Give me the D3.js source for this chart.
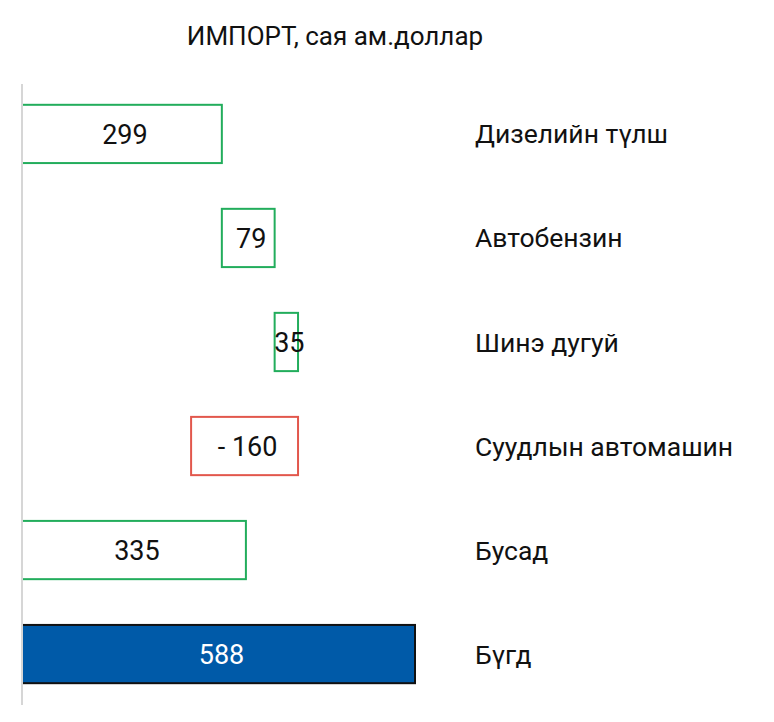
<!DOCTYPE html>
<html>
<head>
<meta charset="utf-8">
<script src="https://cdn.jsdelivr.net/npm/d3@7"></script>
<style>
  body { margin: 0; background: #fff; }
  svg { font-family: Roboto, sans-serif; }
</style>
</head>
<body>
<div class="chart"></div>
<script>
// data
const categories = ['Дизелийн түлш', 'Автобензин', 'Шинэ дугуй', 'Суудлын автомашин', 'Бусад', 'Бүгд'];
const values = [299, 79, 35, -160, 335, 588];
const valueLabels = ['299', '79', '35', '- 160', '335', '588'];
// bars that start again from zero (as drawn in the original)
const fromZero = ['Бусад', 'Бүгд'];
const totals = ['Бүгд'];

const W = 774, H = 722;

let svg = d3.select('.chart').append('svg')
  .attr('width', W)
  .attr('height', H);

// waterfall start/end
let run = 0;
let rows = categories.map(function (c, i) {
  let d = { name: c, value: values[i], label: valueLabels[i], total: totals.includes(c) };
  if (fromZero.includes(c)) run = 0;
  d.x0 = run; d.x1 = run + d.value;
  run = d.x1;
  return d;
});

let x = d3.scaleLinear().domain([0, 588]).range([22, 415]);
let y = d3.scaleBand().domain(categories).range([84, 704])
  .paddingInner(0.44).paddingOuter(0.2);

// title
svg.append('text')
  .attr('x', 335).attr('y', 45)
  .attr('text-anchor', 'middle')
  .attr('font-size', 26)
  .attr('fill', '#111')
  .text('ИМПОРТ, сая ам.доллар');

let g = svg.selectAll('g.row').data(rows).enter()
  .append('g').attr('class', 'row');

g.append('rect')
  .attr('x', function (d) { return x(Math.min(d.x0, d.x1)); })
  .attr('y', function (d) { return y(d.name); })
  .attr('width', function (d) { return Math.abs(x(d.x1) - x(d.x0)); })
  .attr('height', y.bandwidth())
  .attr('fill', function (d) { return d.total ? '#005aa8' : '#fff'; })
  .attr('stroke', function (d) {
    if (d.total) return '#111';
    return d.value < 0 ? '#e2574c' : '#22ad5c';
  })
  .attr('stroke-width', 2);

// values inside bars
g.append('text')
  .attr('x', function (d) { return (x(d.x0) + x(d.x1)) / 2 + 3; })
  .attr('y', function (d) { return y(d.name) + y.bandwidth() / 2; })
  .attr('dy', '0.36em')
  .attr('text-anchor', 'middle')
  .attr('font-size', 27)
  .attr('fill', function (d) { return d.total ? '#fff' : '#111'; })
  .text(function (d) { return d.label; });

// category names on the right
g.append('text')
  .attr('x', 475)
  .attr('y', function (d) { return y(d.name) + y.bandwidth() / 2; })
  .attr('dy', '0.36em')
  .attr('font-size', 26.5)
  .attr('fill', '#111')
  .text(function (d) { return d.name; });

// axis line on top of bars
svg.append('line')
  .attr('x1', x(0)).attr('x2', x(0))
  .attr('y1', 84).attr('y2', 705)
  .attr('stroke', '#d6d6d6')
  .attr('stroke-width', 2);
</script>
</body>
</html>
